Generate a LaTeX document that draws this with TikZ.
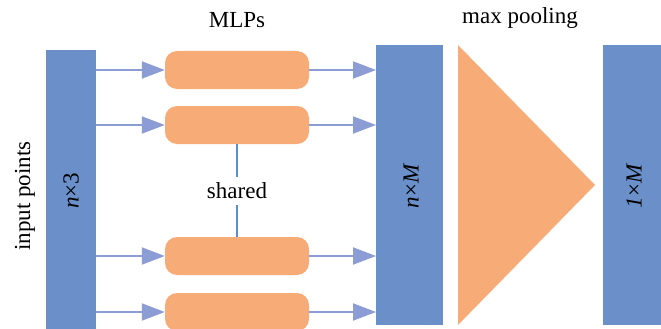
\documentclass[tikz,border=0pt]{standalone}
\usepackage{fontspec}
\setmainfont{Liberation Serif}
\usetikzlibrary{arrows.meta}
\definecolor{barblue}{HTML}{6A8FC9}
\definecolor{mlporange}{HTML}{F7AC78}
\definecolor{arrblue}{HTML}{8C9CD4}
\definecolor{sharedblue}{HTML}{5A8ED0}
\tikzset{
  bar/.style={fill=barblue, draw=none, inner sep=0pt, anchor=north west},
  mlp/.style={fill=mlporange, draw=none, rounded corners=12pt, minimum width=144pt, minimum height=38pt, inner sep=0pt},
  arr/.style={draw=arrblue, line width=2pt, -{Triangle[length=23pt,width=17pt]}},
  sharedline/.style={draw=sharedblue, line width=1.2pt},
  lbl/.style={font=\fontsize{23}{27}\selectfont, inner sep=0pt}
}
\begin{document}
\begin{tikzpicture}[x=1pt,y=-1pt]
\useasboundingbox (0,0) rectangle (661,329);
\clip (0,0) rectangle (661,329);
% bars
\node[bar, minimum width=50pt, minimum height=285pt] (in) at (46,50) {};
\node[bar, minimum width=67pt, minimum height=280pt] (mid) at (376,45) {};
\node[bar, minimum width=67pt, minimum height=280pt] (out) at (603,45) {};
% MLP boxes
\node[mlp] (b1) at (237,70) {};
\node[mlp] (b2) at (237,125) {};
\node[mlp] (b3) at (237,256) {};
\node[mlp] (b4) at (237,312) {};
% arrows
\foreach \b in {b1,b2,b3,b4}{
  \draw[arr] (in.east |- \b.west) -- (\b.west);
  \draw[arr] (\b.east) -- (mid.west |- \b.east);
}
% shared
\node[lbl, inner ysep=6pt] (sh) at (237,191) {shared};
\draw[sharedline] (b2.south) -- (sh.north);
\draw[sharedline] (sh.south) -- (b3.north);
% max pooling triangle
\coordinate (t1) at (458,45);
\coordinate (t2) at (595,185);
\coordinate (t3) at (458,325);
\fill[mlporange] (t1) -- (t2) -- (t3) -- cycle;
% labels
\node[lbl] (mlps) at (237,20) {MLPs};
\node[lbl] (mp) at (520,18) {max pooling};
\node[lbl, rotate=90] (ip) at (25,196) {input points};
\node[lbl, rotate=90] (n3) at (71,191) {\textit{n}×3};
\node[lbl, rotate=90] (nm) at (411,186) {\textit{n}×\textit{M}};
\node[lbl, rotate=90] (om) at (634,186) {\textit{1}×\textit{M}};
\end{tikzpicture}
\end{document}
